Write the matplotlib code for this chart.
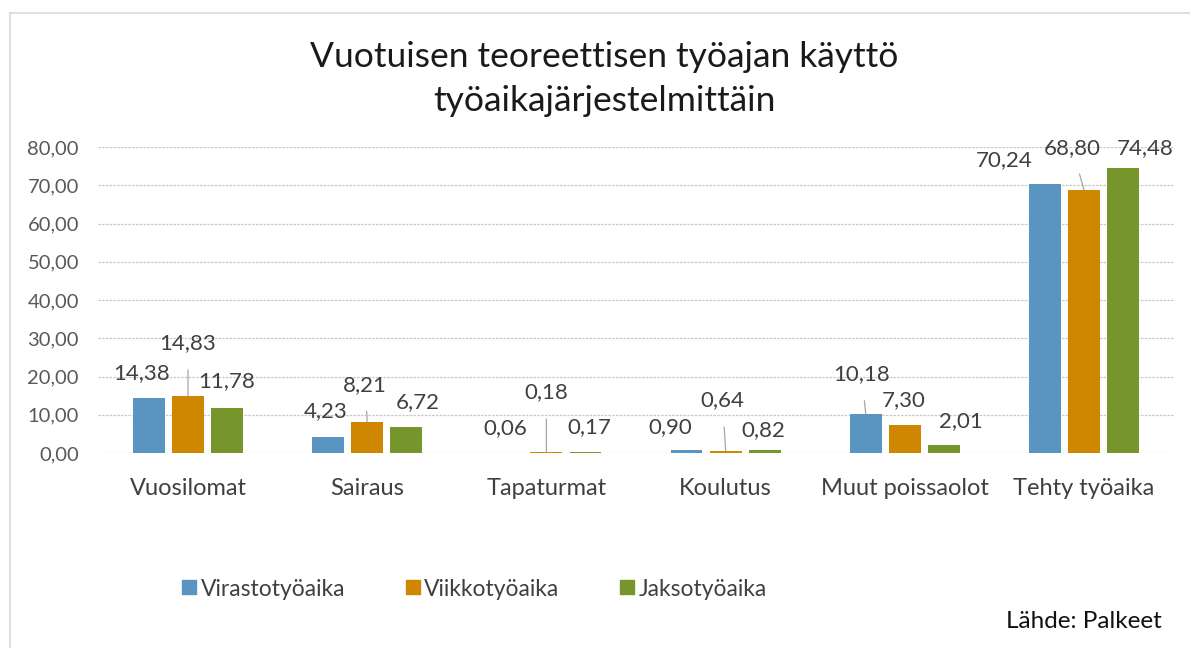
import matplotlib
matplotlib.use("Agg")
import matplotlib.pyplot as plt
from matplotlib.lines import Line2D
import numpy as np

plt.rcParams['font.family'] = ['Lato', 'DejaVu Sans']

categories = ["Vuosilomat", "Sairaus", "Tapaturmat", "Koulutus", "Muut poissaolot", "Tehty työaika"]
series_names = ["Virastotyöaika", "Viikkotyöaika", "Jaksotyöaika"]
virasto = [14.38, 4.23, 0.06, 0.90, 10.18, 70.24]
viikko = [14.83, 8.21, 0.18, 0.64, 7.30, 68.80]
jakso = [11.78, 6.72, 0.17, 0.82, 2.01, 74.48]
yticks = [0, 10, 20, 30, 40, 50, 60, 70, 80]

colors = ["#5A94C1", "#CF8600", "#76962B"]

# label offsets in pixels (dx, dy) from bar top, and whether a leader line is drawn
offsets = [
    [(-7, 25, False), (0, 53, True), (0, 27, False)],
    [(-2, 26, False), (-2, 37, True), (11, 25, False)],
    [(-2, 25, False), (0, 60, True), (4, 25, False)],
    [(-16, 22, False), (-3, 50, True), (-1, 20, False)],
    [(-4, 40, True), (-1, 25, False), (17, 24, False)],
    [(-41, 24, False), (-12, 42, True), (22, 20, False)],
]

fig = plt.figure(figsize=(11.9, 6.48), dpi=100)
ax = fig.add_axes([98.4 / 1190, 1 - 453 / 648, (1173.6 - 98.4) / 1190, 306 / 648])

x = np.arange(len(categories))
width = 0.178
step = 0.218
data = [virasto, viikko, jakso]
for j, (vals, name, col) in enumerate(zip(data, series_names, colors)):
    bars = ax.bar(x + (j - 1) * step, vals, width, color=col, label=name, zorder=3)
    for i, (b, v) in enumerate(zip(bars, vals)):
        dx, dy, lead = offsets[i][j]
        xc = b.get_x() + b.get_width() / 2
        kw = {}
        if lead:
            kw['arrowprops'] = dict(arrowstyle='-', color='#a6a6a6', lw=0.9,
                                    shrinkA=10, shrinkB=0)
        ax.annotate(f"{v:.2f}".replace('.', ','), xy=(xc, v), xytext=(dx, dy),
                    textcoords='offset pixels', ha='center', va='center',
                    fontsize=16, color='#404040', zorder=5, **kw)

ax.set_xlim(-0.5, len(categories) - 0.5)
ax.set_ylim(0, 80)
ax.set_yticks(yticks)
ax.set_yticklabels([f"{t:.2f}".replace('.', ',') for t in yticks], fontsize=14.5, color='#595959')
ax.set_xticks(x)
ax.set_xticklabels(categories, fontsize=17, color='#404040')
ax.tick_params(axis='both', length=0)
ax.tick_params(axis='y', pad=14)
ax.tick_params(axis='x', pad=18)
ax.grid(axis='y', color='#c8c8c8', linestyle=(0, (2, 1)), linewidth=0.9, zorder=0)
for s in ax.spines.values():
    s.set_visible(False)

fig.text(604 / 1190, 1 - 57 / 648, "Vuotuisen teoreettisen työajan käyttö", ha='center', va='center',
         fontsize=25.5, color='#1a1a1a')
fig.text(604 / 1190, 1 - 101 / 648, "työaikajärjestelmittäin", ha='center', va='center',
         fontsize=25.5, color='#1a1a1a')

handles = [Line2D([], [], marker='s', linestyle='none', markersize=10, markerfacecolor=c,
                  markeredgecolor=c) for c in colors]
leg = fig.legend(handles, series_names, loc='center', bbox_to_anchor=(474 / 1190, 1 - 589 / 648),
                 ncol=3, frameon=False, fontsize=16.5, handletextpad=0.15, columnspacing=2.6,
                 handlelength=0.7)
for t in leg.get_texts():
    t.set_color('#404040')

fig.text(1162 / 1190, 1 - 621 / 648, "Lähde: Palkeet", ha='right', va='center', fontsize=17.5,
         color='#111111')

# chart border
fig.add_artist(Line2D([10 / 1190, 1], [1 - 13 / 648, 1 - 13 / 648], color='#d9d9d9', lw=1.2,
                      transform=fig.transFigure))
fig.add_artist(Line2D([10 / 1190, 10 / 1190], [0, 1 - 13 / 648], color='#d9d9d9', lw=1.2,
                      transform=fig.transFigure))

fig.savefig("out.png", dpi=100)
